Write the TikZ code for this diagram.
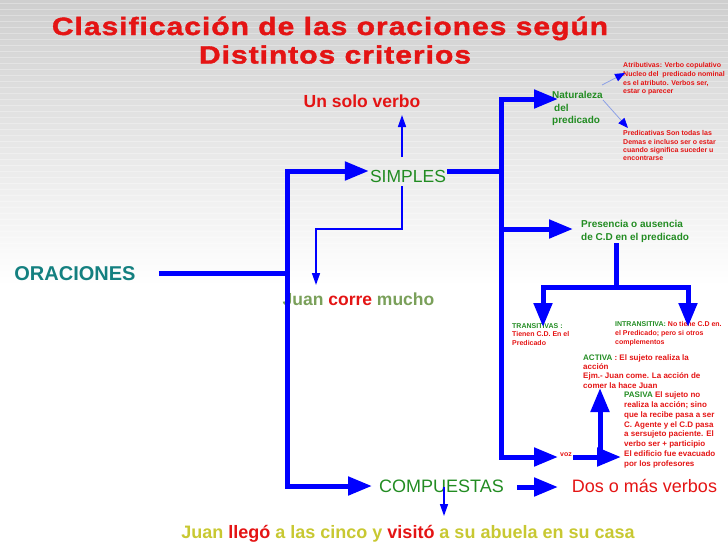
\documentclass[tikz,border=0pt]{standalone}
\usepackage{fontspec}
\setmainfont{Liberation Sans}
\newfontfamily\titulofont[LetterSpace=4, FakeStretch=1.2, FakeBold=1.6]{Liberation Sans}
\usetikzlibrary{arrows.meta}

\definecolor{azul}{RGB}{0,0,255}
\definecolor{rojo}{RGB}{228,20,20}
\definecolor{verde}{RGB}{34,140,34}
\definecolor{verdeazul}{RGB}{20,128,128}
\definecolor{oliva}{RGB}{122,160,90}
\definecolor{amarillo}{RGB}{200,200,50}
\definecolor{celeste}{RGB}{140,160,230}

\tikzset{
    titulo/.style={anchor=base, inner sep=0pt, text=rojo, font=\titulofont\bfseries\fontsize{25}{30}\selectfont},
    grande/.style={anchor=base, inner sep=1pt, font=\fontsize{18}{22}\selectfont},
    nota/.style={anchor=north west, inner sep=0pt, align=left, text=rojo, font=\bfseries\fontsize{7}{8.7}\selectfont},
    grueso/.style={draw=azul, line width=5pt, line join=miter},
    puntag/.style={-{Triangle[length=24pt,width=18pt]}},
    ambas/.style={{Triangle[length=24pt,width=18pt]}-{Triangle[length=24pt,width=18pt]}},
    fino/.style={draw=azul, line width=1.6pt, -{Triangle[length=12pt,width=8pt]}},
    claro/.style={draw=celeste, line width=0.8pt, -{Triangle[length=10pt,width=8pt,color=azul]}}
}

\begin{document}
\begin{tikzpicture}[x=1pt, y=-1pt]
        % Fondo
        \useasboundingbox (0,0) rectangle (728,546);
        \shade[top color=black!19, bottom color=white] (0,0) rectangle (728,285);
        \foreach \y in {3,9,...,249}
            \draw[white, opacity=0.3, line width=0.6pt] (0,\y) -- (728,\y);

        % Nodes
        \node[titulo] (tit1) at (330,35) {Clasificación de las oraciones según};
        \node[titulo] (tit2) at (335,63.5) {Distintos criterios};
        \node[grande, font=\bfseries\fontsize{20}{24}\selectfont, text=verdeazul] (ora) at (75,280) {ORACIONES};
        \node[grande, font=\bfseries\fontsize{17.5}{21}\selectfont, text=rojo] (unsolo) at (362,107) {Un solo verbo};
        \node[grande, font=\fontsize{17.5}{21}\selectfont, text=verde] (simples) at (408,182) {SIMPLES};
        \node[grande, font=\bfseries\fontsize{17.5}{21}\selectfont, text=oliva] (corre) at (358.5,305) {Juan \textcolor{rojo}{corre} mucho};
        \node[grande, text=verde] (comp) at (441.5,492) {COMPUESTAS};
        \node[grande, text=rojo] (dos) at (644.5,492) {Dos o más verbos};
        \node[grande, font=\bfseries\fontsize{18}{22}\selectfont, text=amarillo] (llego) at (408,538)
            {Juan \textcolor{rojo}{llegó} a las cinco y \textcolor{rojo}{visitó} a su abuela en su casa};

        \node[nota, text=verde, font=\bfseries\fontsize{10}{12.5}\selectfont] (natur) at (552,91.4)
            {Naturaleza\\\hspace{2pt}del\\predicado};
        \node[nota] (atrib) at (623,62.5)
            {Atributivas: Verbo copulativo\\Nucleo del\ \ predicado nominal\\es el atributo. Verbos ser,\\estar o parecer};
        \node[nota, font=\bfseries\fontsize{7}{8.4}\selectfont] (predic) at (623,130.5)
            {Predicativas Son todas las\\Demas e incluso ser o estar\\cuando significa suceder u\\encontrarse};
        \node[nota, text=verde, font=\bfseries\fontsize{10}{13}\selectfont] (pres) at (581,220.4)
            {Presencia o ausencia\\de C.D en el predicado};
        \node[nota, font=\bfseries\fontsize{7}{8.8}\selectfont] (trans) at (512,323)
            {\textcolor{verde}{TRANSITIVAS :}\\Tienen C.D. En el\\Predicado};
        \node[nota] (intrans) at (615,321.5)
            {\textcolor{verde}{INTRANSITIVA:} No tiene C.D en.\\el Predicado; pero si otros\\complementos};
        \node[nota, font=\bfseries\fontsize{8}{9.4}\selectfont] (activa) at (583,354)
            {\textcolor{verde}{ACTIVA} : El sujeto realiza la\\acción\\Ejm.- Juan come. La acción de\\comer la hace Juan};
        \node[nota, font=\bfseries\fontsize{8}{9.8}\selectfont] (pasiva) at (624,391.6)
            {\textcolor{verde}{PASIVA} El sujeto no\\realiza la acción; sino\\que la recibe pasa a ser\\C. Agente y el C.D pasa\\a sersujeto paciente. El\\verbo ser + participio\\El edificio fue evacuado\\por los profesores};
        \node[nota, anchor=west] (voz) at (560,455) {voz};

        % Puntos de los conectores
        \coordinate (a) at (287,171);
        \coordinate (b) at (287,486);
        \coordinate (c) at (501,99);
        \coordinate (d) at (501,457);
        \coordinate (g) at (616,287);
        \coordinate (e) at (573,457);
        \coordinate (f) at (600,457);
        \coordinate (tcomp) at (372,486);
        \coordinate (tnat) at (558,99);
        \coordinate (tpres) at (573,229);
        \coordinate (tvoz) at (558,457);
        \coordinate (tpas) at (621,457);
        \coordinate (tact) at (600,388);
        \coordinate (ttr) at (543,327);
        \coordinate (tin) at (688,327);
        \coordinate (u1) at (517,487);
        \coordinate (u2) at (558,487);
        \coordinate (s1) at (402,157);
        \coordinate (s2) at (402,115);
        \coordinate (s3) at (402,186);
        \coordinate (s4) at (316,229);
        \coordinate (s5) at (316,285);
        \coordinate (k1) at (444,487);
        \coordinate (k2) at (444,516);
        \coordinate (n1) at (602,85);
        \coordinate (n2) at (625,73);
        \coordinate (n3) at (603,100);
        \coordinate (n4) at (628,128);

        % Edges
        \draw[grueso] ([xshift=22pt]ora.east) -- (ora.east -| a);
        \draw[grueso, ambas] (tcomp) -- (b) -- (a) -- (simples.west |- a);
        \draw[grueso] (simples.east |- a) -- (a -| c);
        \draw[grueso, ambas] (tnat) -- (c) -- (d) -- (tvoz);
        \draw[grueso, puntag] (c |- tpres) -- (tpres);
        \draw[grueso] (pres.south -| g) -- (g);
        \draw[grueso, ambas] (ttr) -- (ttr |- g) -- (tin |- g) -- (tin);
        \draw[grueso, puntag] (e) -- (tpas);
        \draw[grueso, puntag] (f) -- (tact);
        \draw[grueso, puntag] (u1) -- (u2);

        \draw[fino] (s1) -- (s2);
        \draw[fino] (s3) |- (s4) -- (s5);
        \draw[fino] (k1) -- (k2);
        \draw[claro] (n1) -- (n2);
        \draw[claro] (n3) -- (n4);
    \end{tikzpicture}
\end{document}
